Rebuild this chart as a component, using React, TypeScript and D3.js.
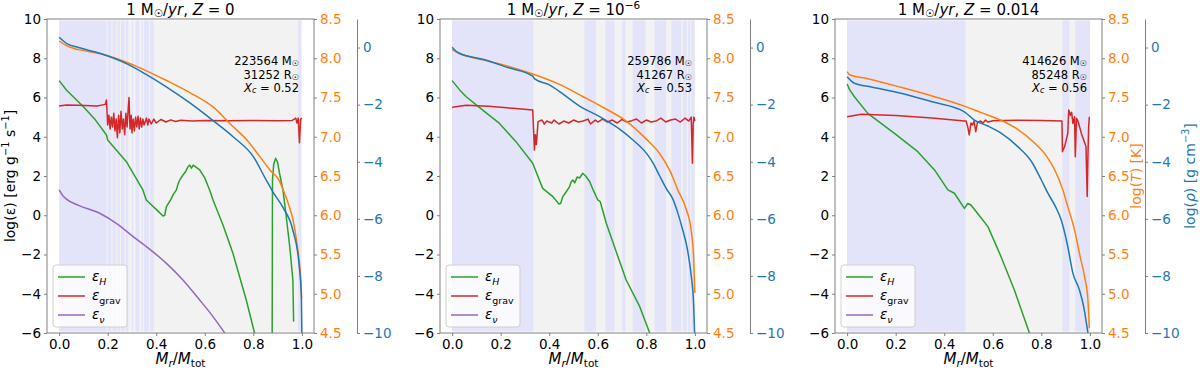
import * as d3 from 'd3';
import { useRef, useEffect } from 'react';

type Pt = [number, number];

// ---- data (x = Mr/Mtot) ----
const zLabels = ['0', '10', '0.014'];
const zSups = ['', '−6', ''];
const masses = ['223564', '259786', '414626'];
const radii = ['31252', '41267', '85248'];
const xcValues = ['0.52', '0.53', '0.56'];

// convective zones (lavender spans)
const p1Conv: Pt[] = [[0, 0.195], [0.2, 0.215], [0.22, 0.235], [0.24, 0.25], [0.255, 0.27], [0.275, 0.285], [0.3, 0.305], [0.315, 0.33], [0.34, 0.345], [0.35, 0.37], [0.375, 0.39], [0.985, 0.997]];
const p2Conv: Pt[] = [[0, 0.335], [0.545, 0.593], [0.632, 0.669], [0.7, 0.714], [0.744, 0.797], [0.834, 0.882], [0.903, 0.944], [0.951, 0.967], [0.972, 0.981], [0.985, 0.999]];
const p3Conv: Pt[] = [[0, 0.488], [0.887, 0.916], [0.94, 1.0]];

// log eps_H
const p1EpsH: Pt[] = [[0, 6.86], [0.03, 6.38], [0.1, 5.53], [0.15, 4.85], [0.195, 4.09], [0.2, 3.83], [0.277, 2.73], [0.345, 1.29], [0.359, 0.78], [0.4, 0.3], [0.428, -0.04], [0.435, 0.0], [0.442, 0.44], [0.46, 0.8], [0.47, 1.05], [0.483, 1.29], [0.49, 1.6], [0.497, 1.8], [0.51, 2.05], [0.52, 2.2], [0.53, 2.45], [0.538, 2.56], [0.545, 2.4], [0.552, 2.55], [0.558, 2.5], [0.579, 2.31], [0.6, 1.9], [0.62, 1.29], [0.634, 0.78], [0.675, -0.5], [0.716, -1.94], [0.745, -3.2], [0.771, -4.32], [0.805, -6.0], [0.83, -8], [0.86, -12], [0.876, -16], [0.879, 1.8], [0.884, 2.6], [0.892, 2.9], [0.9, 2.7], [0.908, 2.14], [0.922, 1.29], [0.935, 0.0], [0.95, -1.6], [0.963, -3.3], [0.966, -5.42]];
const p2EpsH: Pt[] = [[0, 6.86], [0.03, 6.4], [0.058, 6.04], [0.126, 5.36], [0.195, 4.68], [0.263, 3.75], [0.332, 2.65], [0.373, 1.37], [0.415, 0.95], [0.44, 0.57], [0.447, 0.6], [0.456, 0.95], [0.47, 1.2], [0.484, 1.46], [0.49, 1.7], [0.497, 1.8], [0.505, 1.65], [0.515, 1.95], [0.525, 1.9], [0.538, 2.14], [0.55, 2.0], [0.567, 1.71], [0.581, 1.29], [0.6, 0.78], [0.61, 0.7], [0.635, -0.41], [0.68, -2.0], [0.717, -3.3], [0.773, -4.66], [0.814, -6.0], [0.85, -7.5]];
const p3EpsH: Pt[] = [[0, 6.69], [0.01, 6.4], [0.03, 6.04], [0.085, 5.19], [0.195, 4.17], [0.291, 3.24], [0.36, 2.31], [0.415, 1.29], [0.442, 1.12], [0.483, 0.35], [0.497, 0.6], [0.51, 0.52], [0.55, -0.1], [0.58, -0.58], [0.634, -2.11], [0.689, -3.81], [0.751, -6.0], [0.8, -7.5]];

// log eps_grav
const p1EpsGrav: Pt[] = [[0, 5.57], [0.03, 5.62], [0.08, 5.6], [0.157, 5.57], [0.19, 5.65], [0.195, 5.87], [0.2, 4.6], [0.205, 5.1], [0.21, 4.4], [0.215, 5.0], [0.22, 4.5], [0.225, 5.2], [0.23, 4.3], [0.235, 4.9], [0.24, 3.95], [0.245, 5.1], [0.25, 4.2], [0.255, 5.3], [0.26, 4.4], [0.265, 4.9], [0.27, 4.1], [0.275, 5.2], [0.28, 4.5], [0.285, 5.5], [0.288, 6.0], [0.292, 4.4], [0.297, 5.1], [0.3, 4.2], [0.305, 4.9], [0.31, 4.3], [0.315, 5.0], [0.32, 4.5], [0.325, 5.05], [0.33, 4.4], [0.335, 4.95], [0.34, 4.5], [0.345, 4.9], [0.35, 4.6], [0.36, 4.95], [0.365, 4.6], [0.37, 4.9], [0.38, 4.65], [0.39, 4.9], [0.4, 4.7], [0.42, 4.88], [0.44, 4.75], [0.46, 4.86], [0.48, 4.78], [0.5, 4.84], [0.55, 4.8], [0.6, 4.83], [0.7, 4.81], [0.8, 4.83], [0.9, 4.82], [0.96, 4.83], [0.975, 4.95], [0.98, 4.7], [0.985, 4.95], [0.99, 3.7], [0.995, 4.9], [1.0, 4.95]];
const p2EpsGrav: Pt[] = [[0, 5.5], [0.058, 5.6], [0.15, 5.55], [0.25, 5.45], [0.332, 5.36], [0.336, 4.2], [0.339, 3.33], [0.343, 4.1], [0.347, 3.6], [0.354, 4.77], [0.37, 4.85], [0.38, 4.65], [0.39, 4.8], [0.41, 4.7], [0.42, 4.85], [0.44, 4.65], [0.46, 4.8], [0.48, 4.7], [0.5, 4.85], [0.52, 4.75], [0.54, 4.8], [0.56, 4.9], [0.57, 4.65], [0.59, 4.85], [0.6, 4.75], [0.62, 4.9], [0.64, 4.75], [0.66, 4.85], [0.68, 4.7], [0.7, 4.88], [0.72, 4.75], [0.74, 4.82], [0.76, 4.9], [0.78, 4.7], [0.8, 4.85], [0.82, 4.75], [0.84, 4.8], [0.86, 4.95], [0.88, 4.75], [0.9, 4.85], [0.92, 4.9], [0.94, 4.75], [0.96, 4.95], [0.975, 4.8], [0.985, 5.0], [0.99, 2.65], [0.993, 4.6], [0.996, 5.0], [1.0, 4.8]];
const p3EpsGrav: Pt[] = [[0, 5.02], [0.058, 5.15], [0.2, 5.08], [0.35, 4.95], [0.483, 4.8], [0.49, 4.8], [0.497, 4.5], [0.503, 4.09], [0.51, 4.7], [0.517, 4.6], [0.523, 4.8], [0.53, 4.26], [0.537, 4.73], [0.55, 4.8], [0.56, 4.7], [0.57, 4.85], [0.58, 4.75], [0.6, 4.82], [0.7, 4.84], [0.8, 4.83], [0.885, 4.8], [0.887, 3.24], [0.896, 3.5], [0.909, 4.17], [0.913, 5.36], [0.92, 5.1], [0.925, 5.25], [0.93, 4.68], [0.937, 5.02], [0.94, 2.98], [0.945, 4.94], [0.951, 4.8], [0.965, 4.17], [0.984, 3.5], [0.987, 2.0], [0.989, 0.95], [0.992, 3.0], [0.995, 4.5], [0.998, 5.02]];

// log eps_nu (only panel 1 reaches above -6)
const p1EpsNu: Pt[] = [[0, 1.29], [0.015, 1.0], [0.03, 0.82], [0.08, 0.5], [0.167, 0.1], [0.24, -0.45], [0.305, -1.09], [0.37, -1.7], [0.442, -2.45], [0.51, -3.3], [0.579, -4.32], [0.63, -5.1], [0.682, -6.0], [0.75, -7.3]];
const p2EpsNu: Pt[] = [];
const p3EpsNu: Pt[] = [];

// log T
const p1LogT: Pt[] = [[0, 8.22], [0.03, 8.16], [0.08, 8.11], [0.167, 8.06], [0.285, 7.94], [0.36, 7.84], [0.44, 7.72], [0.54, 7.56], [0.634, 7.38], [0.716, 7.13], [0.77, 6.97], [0.826, 6.75], [0.87, 6.57], [0.905, 6.45], [0.922, 6.33], [0.945, 6.14], [0.965, 5.92], [0.985, 5.52], [0.995, 5.2], [0.999, 4.94]];
const p2LogT: Pt[] = [[0, 8.11], [0.03, 8.06], [0.126, 7.98], [0.23, 7.9], [0.332, 7.8], [0.44, 7.67], [0.54, 7.51], [0.63, 7.36], [0.717, 7.2], [0.8, 6.97], [0.854, 6.79], [0.9, 6.55], [0.93, 6.32], [0.964, 6.08], [0.985, 5.8], [0.995, 5.45], [1.0, 5.01]];
const p3LogT: Pt[] = [[0, 7.83], [0.01, 7.79], [0.085, 7.74], [0.222, 7.63], [0.36, 7.51], [0.483, 7.39], [0.55, 7.31], [0.634, 7.21], [0.7, 7.1], [0.772, 6.92], [0.82, 6.76], [0.855, 6.58], [0.889, 6.32], [0.91, 6.1], [0.937, 5.81], [0.958, 5.5], [0.978, 5.22], [0.992, 4.92], [0.998, 4.56]];

// log rho
const p1LogRho: Pt[] = [[0, 0.36], [0.03, 0.15], [0.08, 0.0], [0.167, -0.2], [0.284, -0.59], [0.36, -0.95], [0.44, -1.37], [0.54, -1.95], [0.634, -2.56], [0.72, -3.15], [0.8, -3.82], [0.853, -4.64], [0.867, -4.85], [0.88, -5.05], [0.922, -5.6], [0.963, -6.4], [0.988, -7.56], [0.998, -8.73], [1.0, -10]];
const p2LogRho: Pt[] = [[0, 0.01], [0.015, -0.12], [0.03, -0.2], [0.126, -0.41], [0.23, -0.7], [0.332, -1.0], [0.34, -1.1], [0.401, -1.31], [0.46, -1.65], [0.525, -2.05], [0.608, -2.42], [0.68, -2.8], [0.745, -3.24], [0.8, -3.7], [0.828, -4.05], [0.855, -4.5], [0.883, -4.95], [0.909, -5.3], [0.93, -5.8], [0.95, -6.39], [0.97, -7.1], [0.985, -8.0], [0.995, -9.0], [0.999, -10]];
const p3LogRho: Pt[] = [[0, -1.02], [0.03, -1.25], [0.1, -1.38], [0.222, -1.6], [0.35, -1.9], [0.483, -2.25], [0.524, -2.54], [0.58, -2.75], [0.634, -3.0], [0.703, -3.47], [0.76, -4.0], [0.8, -4.64], [0.827, -5.1], [0.86, -5.6], [0.882, -6.04], [0.909, -6.97], [0.93, -7.9], [0.957, -8.49], [0.975, -9.1], [0.992, -10]];

const panels = [
  { conv: p1Conv, h: p1EpsH, grav: p1EpsGrav, nu: p1EpsNu, T: p1LogT, rho: p1LogRho },
  { conv: p2Conv, h: p2EpsH, grav: p2EpsGrav, nu: p2EpsNu, T: p2LogT, rho: p2LogRho },
  { conv: p3Conv, h: p3EpsH, grav: p3EpsGrav, nu: p3EpsNu, T: p3LogT, rho: p3LogRho },
];

const FONT = "'DejaVu Sans', sans-serif";
const GREEN = '#2ca02c', RED = '#d62728', PURPLE = '#9467bd', ORANGE = '#ff7f0e', BLUE = '#1f77b4';
const SPINE = '#808080';

type Part = { t: string; it?: boolean; sub?: boolean; sup?: boolean };

// mathtext-ish text with tspans
function rich(sel: any, parts: Part[], fs: number, subShift = 0.28) {
  let shift = 0;
  parts.forEach(p => {
    const target = p.sub ? fs * subShift : p.sup ? -fs * 0.42 : 0;
    sel.append('tspan')
      .attr('dy', target - shift)
      .attr('font-size', p.sub || p.sup ? fs * 0.7 : fs)
      .attr('font-style', p.it ? 'italic' : 'normal')
      .text(p.t);
    shift = target;
  });
}

export default function App() {
  const ref = useRef<SVGSVGElement>(null);

  useEffect(() => {
    const width = 1200, height = 370;
    const top = 19, bottom = 333, w = 267;
    const lefts = [47, 440, 835];

    const svg = d3.select(ref.current)
      .attr('width', width)
      .attr('height', height)
      .attr('viewBox', `0 0 ${width} ${height}`)
      .style('position', 'absolute')
      .style('left', '0px')
      .style('top', '0px')
      .style('font-family', FONT);
    svg.selectAll('*').remove();

    const y = d3.scaleLinear().domain([-6, 10]).range([bottom, top]);
    const yT = d3.scaleLinear().domain([4.5, 8.5]).range([bottom, top]);
    const yR = d3.scaleLinear().domain([-10, 1]).range([bottom, top]);

    const styleAxis = (g: any, color: string) => {
      g.selectAll('.tick line').attr('stroke', SPINE);
      g.selectAll('.tick text').attr('fill', color).attr('font-size', 13.5).attr('font-family', FONT);
    };

    panels.forEach((p, i) => {
      const left = lefts[i];
      const x = d3.scaleLinear().domain([-0.05, 1.05]).range([left, left + w]);
      const g = svg.append('g');

      const clipId = `clip${i}`;
      svg.append('clipPath').attr('id', clipId)
        .append('rect').attr('x', left).attr('y', top).attr('width', w).attr('height', bottom - top);

      const plot = g.append('g').attr('clip-path', `url(#${clipId})`);

      // backgrounds
      plot.append('rect')
        .attr('x', x(0)).attr('width', x(1) - x(0))
        .attr('y', top + 1.5).attr('height', bottom - top - 3)
        .attr('fill', '#f2f2f2');
      plot.selectAll('rect.conv')
        .data(p.conv)
        .join('rect')
        .attr('class', 'conv')
        .attr('x', d => x(d[0])).attr('width', d => x(d[1]) - x(d[0]))
        .attr('y', top + 1.5).attr('height', bottom - top - 3)
        .attr('fill', '#e3e3fa');

      const line = (ys: d3.ScaleLinear<number, number>, smooth: boolean) =>
        d3.line<Pt>().x(d => x(d[0])).y(d => ys(d[1])).curve(smooth ? d3.curveMonotoneX : d3.curveLinear);

      const series: [Pt[], d3.ScaleLinear<number, number>, string, boolean][] = [
        [p.h, y, GREEN, false], [p.grav, y, RED, false], [p.nu, y, PURPLE, true], [p.T, yT, ORANGE, true], [p.rho, yR, BLUE, true],
      ];
      series.forEach(([data, ys, color, smooth]) => {
        if (!data.length) return;
        plot.append('path')
          .datum(data)
          .attr('d', line(ys, smooth))
          .attr('fill', 'none')
          .attr('stroke', color)
          .attr('stroke-width', 1.5)
          .attr('stroke-linejoin', 'round');
      });

      // frame
      g.append('rect')
        .attr('x', left).attr('y', top).attr('width', w).attr('height', bottom - top)
        .attr('fill', 'none').attr('stroke', SPINE).attr('stroke-width', 1);

      // axes
      g.append('g')
        .attr('transform', `translate(${left},0)`)
        .call(d3.axisLeft(y).tickValues(d3.range(-6, 11, 2)).tickSize(3).tickPadding(3))
        .call((a: any) => a.select('.domain').remove())
        .call((a: any) => styleAxis(a, '#000'));

      g.append('g')
        .attr('transform', `translate(0,${bottom})`)
        .call(d3.axisBottom(x).tickValues([0, 0.2, 0.4, 0.6, 0.8, 1.0]).tickFormat(d3.format('.1f')).tickSize(3).tickPadding(3))
        .call((a: any) => a.select('.domain').remove())
        .call((a: any) => styleAxis(a, '#000'));

      g.append('g')
        .attr('transform', `translate(${left + w},0)`)
        .call(d3.axisRight(yT).tickValues(d3.range(4.5, 8.6, 0.5)).tickFormat(d3.format('.1f')).tickSize(3).tickPadding(3))
        .call((a: any) => a.select('.domain').remove())
        .call((a: any) => styleAxis(a, ORANGE));

      g.append('g')
        .attr('transform', `translate(${left + w + 43},0)`)
        .call(d3.axisRight(yR).tickValues(d3.range(-10, 1, 2)).tickSize(3).tickSizeOuter(0).tickPadding(3))
        .call((a: any) => a.select('.domain').attr('stroke', SPINE))
        .call((a: any) => styleAxis(a, BLUE));

      // title
      const cx = left + w / 2;
      const title = g.append('text').attr('x', cx).attr('y', 15).attr('text-anchor', 'middle').attr('fill', '#000');
      const tParts: Part[] = [{ t: '1 M' }, { t: '☉', sub: true }, { t: '/' }, { t: 'yr', it: true }, { t: ', ' }, { t: 'Z', it: true }, { t: ' = ' + zLabels[i] }];
      if (zSups[i]) tParts.push({ t: zSups[i], sup: true });
      rich(title, tParts, 15, 0.15);

      // x label
      const xl = g.append('text').attr('x', cx).attr('y', 364).attr('text-anchor', 'middle');
      rich(xl, [{ t: 'M', it: true }, { t: 'r', it: true, sub: true }, { t: '/' }, { t: 'M', it: true }, { t: 'tot', sub: true }], 15, 0.2);

      // annotation
      const ax = left + w - 15;
      const a1 = g.append('text').attr('x', ax).attr('y', 65).attr('text-anchor', 'end');
      rich(a1, [{ t: masses[i] + ' M' }, { t: '☉', sub: true }], 11.5, 0.12);
      const a2 = g.append('text').attr('x', ax).attr('y', 78.5).attr('text-anchor', 'end');
      rich(a2, [{ t: radii[i] + ' R' }, { t: '☉', sub: true }], 11.5, 0.12);
      const a3 = g.append('text').attr('x', ax).attr('y', 91.5).attr('text-anchor', 'end');
      rich(a3, [{ t: 'X', it: true }, { t: 'c', it: true, sub: true }, { t: ' = ' + xcValues[i] }], 11.5, 0.15);

      // legend
      const lx = left + 6, ly = 265;
      const lg = g.append('g');
      lg.append('rect')
        .attr('x', lx).attr('y', ly).attr('width', 74).attr('height', 62).attr('rx', 3)
        .attr('fill', 'white').attr('fill-opacity', 0.8).attr('stroke', '#d0d0d0');
      const entries: [string, Part[]][] = [
        [GREEN, [{ t: 'ε', it: true }, { t: 'H', it: true, sub: true }]],
        [RED, [{ t: 'ε', it: true }, { t: 'grav', sub: true }]],
        [PURPLE, [{ t: 'ε', it: true }, { t: 'ν', it: true, sub: true }]],
      ];
      entries.forEach(([c, parts], k) => {
        const yy = ly + 12 + k * 19;
        lg.append('line').attr('x1', lx + 5).attr('x2', lx + 32).attr('y1', yy).attr('y2', yy)
          .attr('stroke', c).attr('stroke-width', 1.5);
        const t = lg.append('text').attr('x', lx + 39).attr('y', yy + 4);
        rich(t, parts, 13.5);
      });
    });

    // y labels
    const yl = svg.append('text').attr('transform', `translate(15,176) rotate(-90)`).attr('text-anchor', 'middle');
    rich(yl, [{ t: 'log(ε) [erg g' }, { t: '−1', sup: true }, { t: ' s' }, { t: '−1', sup: true }, { t: ']' }], 14);

    const tl = svg.append('text').attr('transform', `translate(1141,176) rotate(-90)`).attr('text-anchor', 'middle').attr('fill', ORANGE);
    rich(tl, [{ t: 'log(' }, { t: 'T', it: true }, { t: ') [K]' }], 14);

    const rl = svg.append('text').attr('transform', `translate(1195,176) rotate(-90)`).attr('text-anchor', 'middle').attr('fill', BLUE);
    rich(rl, [{ t: 'log(' }, { t: 'ρ', it: true }, { t: ') [g cm' }, { t: '−3', sup: true }, { t: ']' }], 14);
  }, []);

  return (
    <div>
      <svg ref={ref}></svg>
    </div>
  );
}
